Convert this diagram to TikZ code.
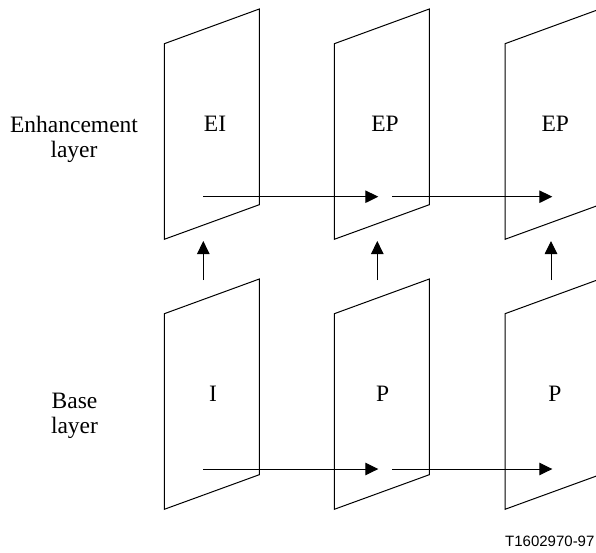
\documentclass[tikz,border=0pt]{standalone}
\usepackage{fontspec}
\setmainfont{Liberation Serif}
\newfontfamily\tagfont{Liberation Sans}
\usetikzlibrary{arrows.meta}
\begin{document}
\begin{tikzpicture}[x=1pt,y=-1pt,
  frame/.style={draw=black,line width=1pt,line join=miter},
  lbl/.style={font=\fontsize{23.5}{25.5}\selectfont,inner sep=0pt,anchor=base},
  side/.style={font=\fontsize{23.5}{25.5}\selectfont,inner sep=0pt,align=center,anchor=base},
  arr/.style={draw=black,line width=1pt,-{Triangle[length=13pt,width=12.5pt]}}]
\useasboundingbox (0,0) rectangle (596,552);
% frames
\foreach \xl/\dy in {164.3/0,334.3/0,505/0,164.3/270,334.3/270,505/270}{
  \draw[frame] (\xl,43.7+\dy) -- (\xl+95,9+\dy) -- (\xl+95,204.7+\dy) -- (\xl,239.3+\dy) -- cycle;
}
% labels
\node[side] (enh) at (74,157.5) {Enhancement\\layer};
\node[side] (base) at (74.5,433.5) {Base\\layer};
\node[lbl] (ei) at (215,131.5) {EI};
\node[lbl] (ep1) at (385,131.5) {EP};
\node[lbl] (ep2) at (555.3,131.5) {EP};
\node[lbl] (i) at (213,401.5) {I};
\node[lbl] (p1) at (382.7,401.5) {P};
\node[lbl] (p2) at (555,401.5) {P};
\node[font=\tagfont\fontsize{15}{17}\selectfont,inner sep=0pt,anchor=base west] (tag) at (505,546.5) {T1602970-97};
% arrow end points
\coordinate (ta0) at (203,196.7);
\coordinate (ta1) at (378.3,196.7);
\coordinate (ta2) at (392,196.7);
\coordinate (ta3) at (552.3,196.7);
\coordinate (ba0) at (203,469);
\coordinate (ba1) at (378.3,469);
\coordinate (ba2) at (392,469);
\coordinate (ba3) at (552.3,469);
\coordinate (v1s) at (203.3,280);
\coordinate (v1e) at (203.3,241);
\coordinate (v2s) at (377.3,280);
\coordinate (v2e) at (377.3,241);
\coordinate (v3s) at (551,280);
\coordinate (v3e) at (551,241);
\draw[arr] (ta0) -- (ta1);
\draw[arr] (ta2) -- (ta3);
\draw[arr] (ba0) -- (ba1);
\draw[arr] (ba2) -- (ba3);
\draw[arr] (v1s) -- (v1e);
\draw[arr] (v2s) -- (v2e);
\draw[arr] (v3s) -- (v3e);
\end{tikzpicture}
\end{document}
